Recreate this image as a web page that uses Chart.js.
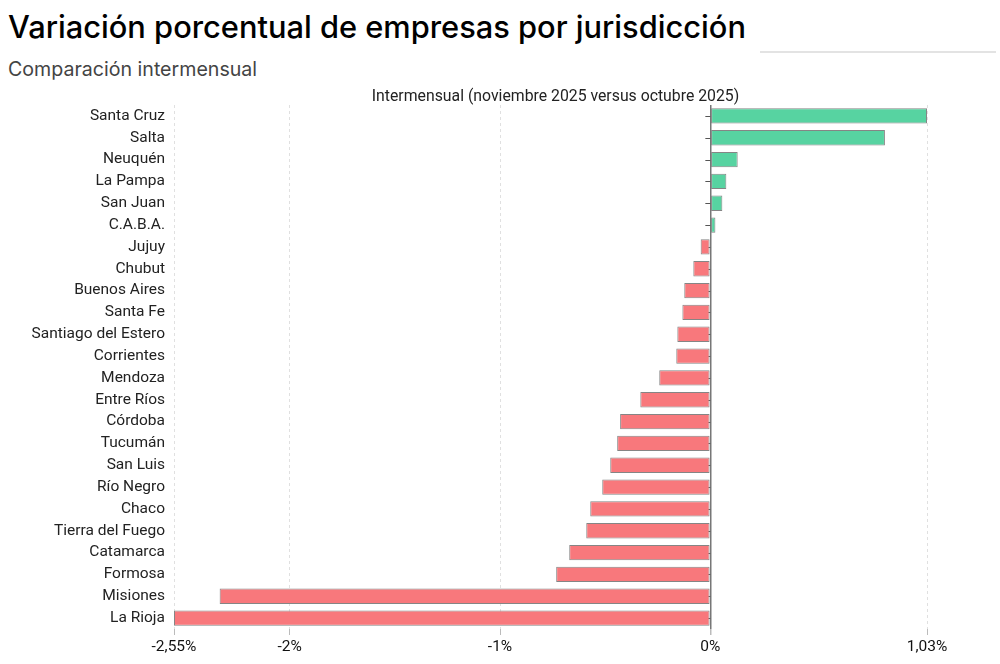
<!DOCTYPE html>
<html>
<head>
<meta charset="utf-8">
<script src="https://cdn.jsdelivr.net/npm/chart.js@4.4.1/dist/chart.umd.min.js"></script>
<style>
  html,body{margin:0;padding:0;background:#fff;width:1000px;height:664px;overflow:hidden;font-family:Inter,'Noto Sans',sans-serif}
  #title{position:absolute;left:8px;top:8px;font-size:30.8px;font-weight:500;color:#000;white-space:nowrap}
  #rule{position:absolute;left:760px;top:51px;width:236px;height:2px;background:#e3e3e3}
  #sub{position:absolute;left:8px;top:57px;font-size:19.6px;color:#444;white-space:nowrap}
  #wrap{position:absolute;left:0;top:82px;width:1000px;height:582px}
</style>
</head>
<body>
<div id="title">Variación porcentual de empresas por jurisdicción</div>
<div id="rule"></div>
<div id="sub">Comparación intermensual</div>
<div id="wrap"><canvas id="chart"></canvas></div>
<script>
// ─── DATOS ───
const jurisdicciones = ['Santa Cruz','Salta','Neuquén','La Pampa','San Juan','C.A.B.A.','Jujuy','Chubut',
  'Buenos Aires','Santa Fe','Santiago del Estero','Corrientes','Mendoza','Entre Ríos','Córdoba','Tucumán',
  'San Luis','Río Negro','Chaco','Tierra del Fuego','Catamarca','Formosa','Misiones','La Rioja'];
const variacion = [1.03,0.83,0.13,0.076,0.057,0.024,-0.046,-0.081,
  -0.124,-0.133,-0.157,-0.162,-0.243,-0.333,-0.429,-0.443,
  -0.476,-0.514,-0.571,-0.59,-0.671,-0.733,-2.333,-2.55];
const ejeTicks = [-2.55,-2,-1,0,1.03];
const tituloGrafico = 'Intermensual (noviembre 2025 versus octubre 2025)';

const fmt = v => String(v).replace('.', ',') + '%';

// marcas pequeñas sobre la línea del cero + título centrado en el área
const zeroTicks = {
  id:'zeroTicks',
  beforeDatasetsDraw(chart){
    const {ctx, scales:{x,y}} = chart;
    const x0 = x.getPixelForValue(0);
    ctx.save();
    ctx.strokeStyle = '#555'; ctx.lineWidth = 1;
    jurisdicciones.forEach((_,i)=>{
      const py = Math.round(y.getPixelForValue(i)) + 0.5;
      ctx.beginPath(); ctx.moveTo(x0-5, py); ctx.lineTo(x0, py); ctx.stroke();
    });
    ctx.restore();
  },
  afterDraw(chart){
    const {ctx, chartArea:a} = chart;
    ctx.save();
    ctx.font = '15.8px Roboto, sans-serif';
    ctx.fillStyle = '#222';
    ctx.textAlign = 'center'; ctx.textBaseline = 'middle';
    ctx.fillText(tituloGrafico, (a.left+a.right)/2 + 5, 15);
    ctx.restore();
  }
};

new Chart(document.getElementById('chart').getContext('2d'), {
  type:'bar',
  data:{
    labels: jurisdicciones,
    datasets:[{
      data: variacion,
      backgroundColor: variacion.map(v => v >= 0 ? '#57D3A1' : '#F8787C'),
      borderColor: '#858585',
      borderWidth: 1,
      borderSkipped: false,
      barPercentage: 0.7,
      categoryPercentage: 1
    }]
  },
  options:{
    indexAxis:'y',
    responsive:true, maintainAspectRatio:false, animation:false,
    layout:{padding:{top:23,left:0,right:73,bottom:0}},
    plugins:{legend:{display:false},tooltip:{enabled:false}},
    scales:{
      x:{
        min:-2.55, max:1.03,
        afterBuildTicks: s => { s.ticks = ejeTicks.map(v => ({value:v})); },
        afterFit: s => { s.height = 35; },
        ticks:{color:'#111',font:{family:'Roboto',size:15.5},padding:3,maxRotation:0,autoSkip:false,
          callback: v => fmt(v)},
        grid:{
          color: c => c.tick && c.tick.value === 0 ? '#777' : '#e0e0e0',
          lineWidth: c => c.tick && c.tick.value === 0 ? 1.5 : 1,
          tickColor:'#bbb', tickLength:6
        },
        border:{display:false, dash: c => c.tick && c.tick.value === 0 ? [] : [3,3]}
      },
      y:{
        afterFit: s => { s.width = 174; },
        ticks:{color:'#222',font:{family:'Roboto',size:15.5},padding:1,autoSkip:false},
        grid:{display:false},
        border:{display:false}
      }
    }
  },
  plugins:[zeroTicks]
});
</script>
</body>
</html>
